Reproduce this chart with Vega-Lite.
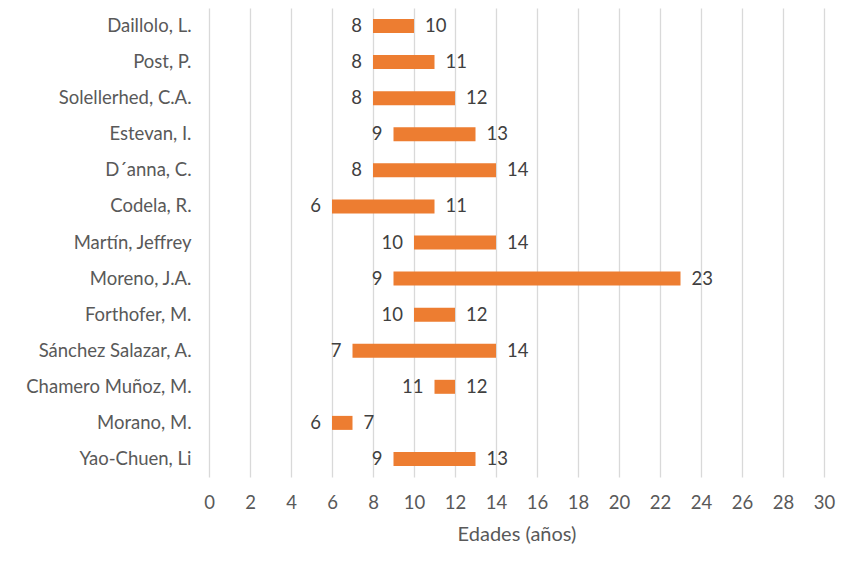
{
  "$schema": "https://vega.github.io/schema/vega-lite/v6.json",
  "width": 615,
  "height": 469,
  "autosize": {"type": "none"},
  "padding": {"left": 209, "top": 8, "right": 24, "bottom": 86},
  "background": "white",
  "config": {
    "view": {"stroke": null},
    "font": "Lato",
    "axis": {"labelFont": "Lato", "titleFont": "Lato", "labelColor": "#595959", "titleColor": "#595959"}
  },
  "data": {
    "values": [
      {"name": "Daillolo, L.", "start": 8, "end": 10},
      {"name": "Post, P.", "start": 8, "end": 11},
      {"name": "Solellerhed, C.A.", "start": 8, "end": 12},
      {"name": "Estevan, I.", "start": 9, "end": 13},
      {"name": "D´anna, C.", "start": 8, "end": 14},
      {"name": "Codela, R.", "start": 6, "end": 11},
      {"name": "Martín, Jeffrey", "start": 10, "end": 14},
      {"name": "Moreno, J.A.", "start": 9, "end": 23},
      {"name": "Forthofer, M.", "start": 10, "end": 12},
      {"name": "Sánchez Salazar, A.", "start": 7, "end": 14},
      {"name": "Chamero Muñoz, M.", "start": 11, "end": 12},
      {"name": "Morano, M.", "start": 6, "end": 7},
      {"name": "Yao-Chuen, Li", "start": 9, "end": 13}
    ]
  },
  "encoding": {
    "y": {
      "field": "name",
      "type": "nominal",
      "sort": null,
      "title": null,
      "axis": {"ticks": false, "domain": false, "labelPadding": 18, "labelFontSize": 18.5, "grid": false}
    }
  },
  "layer": [
    {
      "mark": {"type": "bar", "color": "#ED7D31", "height": 14},
      "encoding": {
        "x": {
          "field": "start",
          "type": "quantitative",
          "scale": {"domain": [0, 30], "nice": false},
          "title": "Edades (años)",
          "axis": {
            "values": [0, 2, 4, 6, 8, 10, 12, 14, 16, 18, 20, 22, 24, 26, 28, 30],
            "grid": true,
            "gridColor": "#D9D9D9",
            "gridWidth": 1.3,
            "domain": false,
            "ticks": false,
            "labelFlush": false,
            "labelPadding": 16,
            "labelFontSize": 18.5,
            "titleFontSize": 20,
            "titleFontWeight": "normal",
            "titlePadding": 13
          }
        },
        "x2": {"field": "end"}
      }
    },
    {
      "mark": {"type": "text", "align": "right", "dx": -11, "fontSize": 18.5, "color": "#404040", "baseline": "middle"},
      "encoding": {
        "x": {"field": "start", "type": "quantitative"},
        "text": {"field": "start", "type": "quantitative"}
      }
    },
    {
      "mark": {"type": "text", "align": "left", "dx": 11, "fontSize": 18.5, "color": "#404040", "baseline": "middle"},
      "encoding": {
        "x": {"field": "end", "type": "quantitative"},
        "text": {"field": "end", "type": "quantitative"}
      }
    }
  ]
}
